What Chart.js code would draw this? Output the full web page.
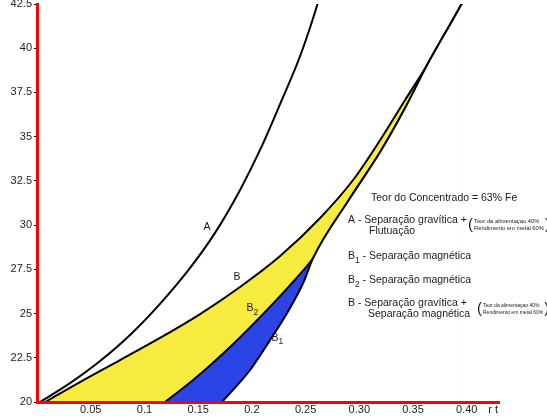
<!DOCTYPE html>
<html><head><meta charset="utf-8">
<script src="https://cdn.jsdelivr.net/npm/chart.js@4"></script>
<style>
html,body{margin:0;padding:0;background:#fff;overflow:hidden}
#wrap{position:relative;width:547px;height:416px;overflow:hidden;background:#fff}
#c{position:absolute;left:0;top:-8px}
</style></head>
<body><div id="wrap"><canvas id="c" width="547" height="424"></canvas></div>
<script>
// ---- data ----
const xTickValues = [0, 0.05, 0.10, 0.15, 0.20, 0.25, 0.30, 0.35, 0.40, 0.4245];
const xTickLabels = ['', '0.05', '0.1', '0.15', '0.2', '0.25', '0.30', '0.35', '0.40', 'r t'];
const yTickValues = [20, 22.5, 25, 27.5, 30, 32.5, 35, 37.5, 40, 42.5];
const yTickLabels = ['20', '22.5', '25', '27.5', '30', '32.5', '35', '37.5', '40', '42.5'];

// curve A – Separação gravítica + Flutuação
const curveA = [[0.0028,20],[0.0307,21.07],[0.0587,22.32],[0.0866,23.79],[0.1145,25.55],[0.1425,27.58],[0.1657,29.56],[0.189,31.99],[0.2076,34.25],[0.2263,36.85],[0.2449,39.56],[0.2588,42.05],[0.2635,43.01]];
// curve B – Separação gravítica + Separação magnética
const curveB = [[0.0074,20],[0.040,21.13],[0.0773,22.37],[0.1145,23.62],[0.1518,24.97],[0.189,26.5],[0.2263,28.25],[0.2635,30.4],[0.2942,32.55],[0.3194,34.81],[0.3426,37.07],[0.3631,39.05],[0.3911,42.05],[0.3957,42.56]];
// curve B2 – Separação magnética (until it joins B)
const curveB2 = [[0.1192,20],[0.1453,21.24],[0.1797,23.11],[0.2076,24.8],[0.2356,26.61],[0.257,28.14],[0.2914,31.53],[0.3194,34.13],[0.3426,36.62],[0.3631,39.05]];
// curve B1 – Separação magnética (until it joins B2)
const curveB1 = [[0.1723,20],[0.1983,21.81],[0.2169,23.5],[0.2328,25.03],[0.2477,26.72],[0.257,28.14]];

const yellow = '#F8EB3F';
const blue = '#2B44E6';

// ---- build continued curves ----
const lastX = a => a[a.length-1][0];
const b2Full = curveB2.concat(curveB.filter(p => p[0] > lastX(curveB2)));
const b1Full = curveB1.concat(b2Full.filter(p => p[0] > lastX(curveB1)));
const pts = a => a.map(p => ({x:p[0], y:p[1]}));

const FONT = '"Liberation Sans", Arial, Helvetica, sans-serif';
const OFF = 8; // canvas is shifted up by 8px

function rich(ctx, x, y, parts, size){
  let cx = x;
  ctx.textBaseline = 'middle';
  ctx.textAlign = 'left';
  for (const p of parts){
    const s = p.sub ? size*0.8 : size;
    ctx.font = s + 'px ' + FONT;
    ctx.fillText(p.t, cx, y + (p.sub ? size*0.4 : 0));
    cx += ctx.measureText(p.t).width;
  }
  return cx;
}
function note(ctx, x, yMid, fs, gap){
  ctx.textBaseline = 'middle';
  ctx.textAlign = 'left';
  ctx.font = '15px ' + FONT;
  ctx.fillText('(', x, yMid);
  const w0 = ctx.measureText('(').width;
  ctx.font = fs + 'px ' + FONT;
  const l1 = 'Teor da alimentaçao 40%', l2 = 'Rendimento em metal 60%';
  const tx = x + w0 + 1;
  ctx.fillText(l1, tx, yMid - gap);
  ctx.fillText(l2, tx, yMid + gap);
  const w = Math.max(ctx.measureText(l1).width, ctx.measureText(l2).width);
  ctx.font = '15px ' + FONT;
  ctx.fillText(')', tx + w + 1, yMid);
}

const textPlugin = {
  id: 'texts',
  afterDraw(chart){
    const ctx = chart.ctx, xs = chart.scales.x, ys = chart.scales.y;
    ctx.save();
    ctx.fillStyle = '#1a1a1a';
    // curve labels, anchored in data units
    const lab = (txt, sub, vx, vy) => {
      const px = xs.getPixelForValue(vx), py = ys.getPixelForValue(vy);
      const parts = [{t:txt}];
      if (sub) parts.push({t:sub, sub:true});
      ctx.font = '10.5px ' + FONT;
      rich(ctx, px - ctx.measureText(txt).width/2, py, parts, 10.5);
    };
    lab('A', '', 0.1583, 29.89);
    lab('B', '', 0.1862, 27.06);
    lab('B', '2', 0.1983, 25.31);
    lab('B', '1', 0.2216, 23.62);

    // legend block
    const S = 10.5;
    rich(ctx, 371, 198+OFF, [{t:'Teor do Concentrado = 63% Fe'}], S);
    rich(ctx, 348, 220+OFF, [{t:'A - Separação gravítica +'}], S);
    rich(ctx, 369, 231+OFF, [{t:'Flutuação'}], S);
    note(ctx, 468, 225+OFF, 5.8, 3.5);
    rich(ctx, 348, 256+OFF, [{t:'B'},{t:'1',sub:true},{t:' - Separação magnética'}], S);
    rich(ctx, 348, 280+OFF, [{t:'B'},{t:'2',sub:true},{t:' - Separação magnética'}], S);
    rich(ctx, 348, 303+OFF, [{t:'B - Separação gravítica +'}], S);
    rich(ctx, 368, 314+OFF, [{t:'Separação magnética'}], S);
    note(ctx, 477, 309+OFF, 5, 3.2);
    ctx.restore();
  }
};

const lineBase = {borderColor:'#000', borderWidth:2, pointRadius:0, cubicInterpolationMode:'monotone'};

new Chart(document.getElementById('c'), {
  type: 'line',
  data: {
    datasets: [
      Object.assign({label:'A', data: pts(curveA), fill:false, order:1}, lineBase),
      Object.assign({label:'B1', data: pts(b1Full), fill:{value:20}, backgroundColor:'#ffffff', order:2}, lineBase),
      Object.assign({label:'B2', data: pts(b2Full), fill:{value:20}, backgroundColor:blue, order:3}, lineBase),
      Object.assign({label:'B', data: pts(curveB), fill:{value:20}, backgroundColor:yellow, order:4}, lineBase)
    ]
  },
  options: {
    responsive: false,
    devicePixelRatio: 1,
    animation: false,
    events: [],
    layout: {padding: {top:12, right:48, bottom:0, left:0}},
    plugins: {legend:{display:false}, tooltip:{enabled:false}, title:{display:false}},
    scales: {
      x: {
        type: 'linear', min: 0, max: 0.43,
        afterBuildTicks: s => { s.ticks = xTickValues.map(v => ({value:v})); },
        afterFit: s => { s.height = 14; },
        grid: {display:false, drawTicks:false},
        border: {display:true, color:'#ff0000', width:3, z:2},
        ticks: {
          autoSkip:false, maxRotation:0, padding:1, color:'#222', z:2,
          font:{family:FONT, size:11},
          callback: (v, i) => xTickLabels[i]
        }
      },
      y: {
        type: 'linear', min: 20, max: 42.5,
        afterBuildTicks: s => { s.ticks = yTickValues.map(v => ({value:v})); },
        afterFit: s => { s.width = 37; },
        grid: {display:true, drawOnChartArea:false, drawTicks:true, tickLength:3, color:'#000', lineWidth:1},
        border: {display:true, color:'#ff0000', width:3, z:2},
        ticks: {
          autoSkip:false, padding:2, color:'#222',
          font:{family:FONT, size:11},
          callback: (v, i) => yTickLabels[i]
        }
      }
    }
  },
  plugins: [textPlugin]
});
</script>
</body></html>
